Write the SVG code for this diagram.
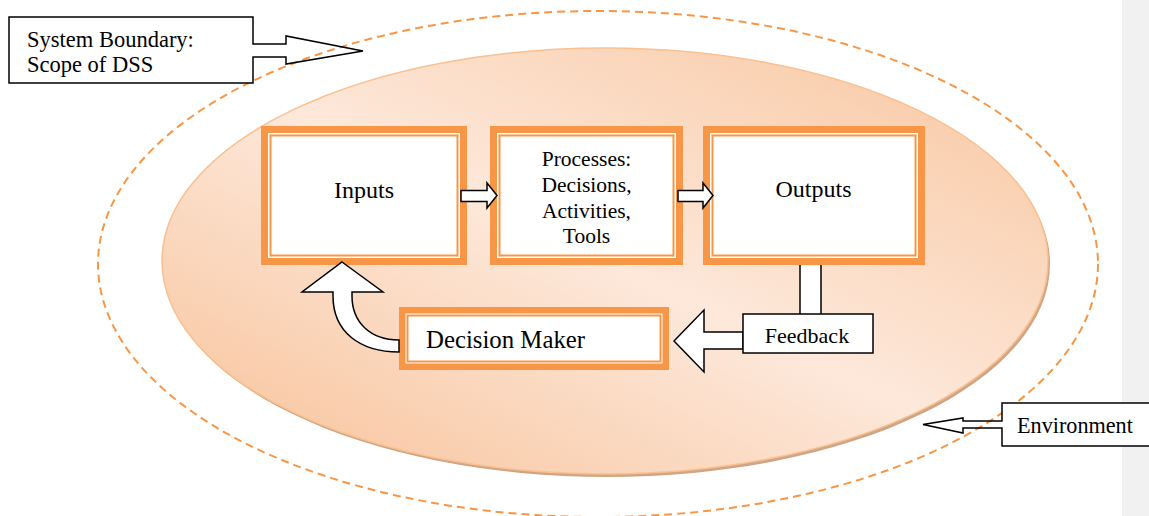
<svg xmlns="http://www.w3.org/2000/svg" width="1149" height="516" viewBox="0 0 1149 516">
<defs>
<linearGradient id="eg" x1="0" y1="1" x2="1" y2="0">
<stop offset="0" stop-color="#f7c096"/>
<stop offset="0.5" stop-color="#fde8da"/>
<stop offset="1" stop-color="#f8c59e"/>
</linearGradient>
<style>
.thick{fill:#f79646}
.inner{fill:#fff;stroke:#f79646;stroke-width:2}
.gap{fill:#fff}
.blk{fill:#fff;stroke:#000;stroke-width:1.5;stroke-linejoin:miter}
.ol{fill:none;stroke:#000;stroke-width:1.5}
</style>
</defs>
<rect x="0" y="0" width="1149" height="516" fill="#fff"/>
<rect x="1122" y="0" width="27" height="516" fill="#f1f1f1"/>
<g id="system">
<ellipse cx="607" cy="264" rx="443" ry="213" fill="#cfa586"/>
<ellipse cx="605" cy="261" rx="443" ry="213" fill="url(#eg)" stroke="#fac08f" stroke-width="1.5"/>
</g>
<g id="boundary">
<ellipse cx="598" cy="264" rx="500" ry="253" fill="none" stroke="#f79646" stroke-width="2" stroke-dasharray="8 5"/>
</g>
<g font-family="'Liberation Serif', 'Times New Roman', 'DejaVu Serif', serif" fill="#000">
<g id="inputs">
<rect class="thick" x="261" y="126" width="206" height="139"/>
<rect class="gap" x="268" y="133" width="192" height="125"/>
<rect class="inner" x="270.5" y="135.5" width="187" height="120"/>
<text x="364" y="198" font-size="24" text-anchor="middle">Inputs</text>
</g>
<g id="processes">
<rect class="thick" x="490" y="126" width="193" height="139"/>
<rect class="gap" x="497" y="133" width="179" height="125"/>
<rect class="inner" x="499.5" y="135.5" width="174" height="120"/>
<text font-size="21.5" text-anchor="middle"><tspan x="586.5" y="166">Processes:</tspan><tspan x="586.5" y="192">Decisions,</tspan><tspan x="586.5" y="217.5">Activities,</tspan><tspan x="586.5" y="243">Tools</tspan></text>
</g>
<g id="outputs">
<rect class="thick" x="703" y="126" width="222" height="139"/>
<rect class="gap" x="710" y="133" width="208" height="125"/>
<rect class="inner" x="712.5" y="135.5" width="203" height="120"/>
<text x="813.5" y="197" font-size="24" text-anchor="middle">Outputs</text>
</g>
<g id="decision-maker">
<rect class="thick" x="399" y="307" width="270" height="63"/>
<rect class="gap" x="405.5" y="313.5" width="257" height="50"/>
<rect class="inner" x="407.5" y="315.5" width="253" height="46"/>
<text x="426" y="348" font-size="24.8">Decision Maker</text>
</g>
<g id="connectors">
<path class="blk" d="M461,190.5 L487,190.5 L487,183 L497,195.5 L487,208 L487,201.5 L461,201.5 Z"/>
<path class="blk" d="M678,190.5 L703,190.5 L703,183 L713,195.5 L703,208 L703,201.5 L678,201.5 Z"/>
<path class="blk" d="M342,262 L383,292 L352,292 L352,296 C352,322 370,340 399,340 L399,352 C360,352 333,332 333,296 L333,292 L302,292 Z"/>
<rect x="800" y="265.5" width="21" height="50" fill="#fff"/>
<path class="ol" d="M800,265 L800,315 M821,265 L821,315"/>
<path class="blk" d="M743,332 L704,332 L704,310 L674,341 L704,372 L704,349 L743,349 Z"/>
</g>
<g id="feedback">
<rect class="blk" x="743" y="314" width="130" height="39"/>
<text x="807" y="343" font-size="22" text-anchor="middle">Feedback</text>
</g>
<g id="callout-boundary">
<rect x="9" y="17" width="244" height="66" fill="#fff"/>
<path class="ol" d="M9,17 L253,17 L253,44 L286,44 L286,36 L363,51 L286,64 L286,57 L253,57 L253,83 L9,83 Z"/>
<text font-size="22.5"><tspan x="27" y="47">System Boundary:</tspan><tspan x="27" y="72">Scope of DSS</tspan></text>
</g>
<g id="callout-environment">
<rect x="1002" y="403" width="160" height="43" fill="#fff"/>
<path class="ol" d="M1160,403 L1002,403 L1002,421 L963,421 L963,418 L923,424.5 L963,433 L963,428 L1002,428 L1002,446 L1160,446"/>
<text x="1017" y="433" font-size="22.2">Environment</text>
</g>
</g>
</svg>
